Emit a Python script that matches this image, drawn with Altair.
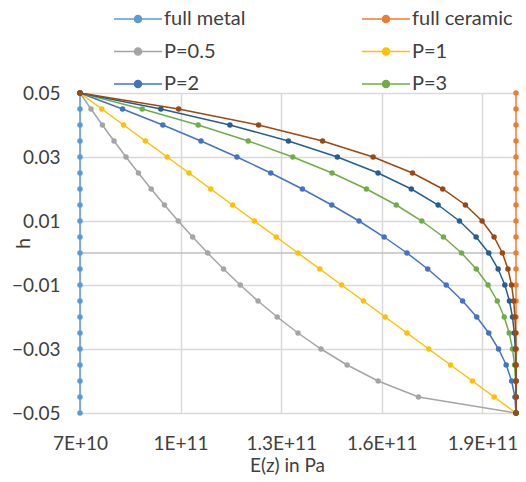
import altair as alt
import pandas as pd

# Through-thickness coordinate (m), top surface to bottom surface
h_values = [0.05, 0.045, 0.04, 0.035, 0.03, 0.025, 0.02, 0.015, 0.01, 0.005, 0.0,
            -0.005, -0.01, -0.015, -0.02, -0.025, -0.03, -0.035, -0.04, -0.045, -0.05]

# Young's modulus E(z) in GPa for each gradation case
e_full_metal = [70, 70, 70, 70, 70, 70, 70, 70, 70, 70, 70,
                70, 70, 70, 70, 70, 70, 70, 70, 70, 70]
e_full_ceramic = [200, 200, 200, 200, 200, 200, 200, 200, 200, 200, 200,
                  200, 200, 200, 200, 200, 200, 200, 200, 200, 200]
e_p05 = [70.0, 73.29, 76.67, 80.15, 83.72, 87.42, 91.23, 95.19, 99.30, 103.59, 108.08,
         112.79, 117.78, 123.09, 128.80, 135.0, 141.86, 149.65, 158.89, 170.93, 200.0]
e_p1 = [70.0, 76.5, 83.0, 89.5, 96.0, 102.5, 109.0, 115.5, 122.0, 128.5, 135.0,
        141.5, 148.0, 154.5, 161.0, 167.5, 174.0, 180.5, 187.0, 193.5, 200.0]
e_p2 = [70.0, 82.68, 94.70, 106.08, 116.80, 126.88, 136.30, 145.08, 153.20, 160.68, 167.50,
        173.68, 179.20, 184.08, 188.30, 191.88, 194.80, 197.08, 198.70, 199.68, 200.0]
e_p3 = [70.0, 88.54, 105.23, 120.16, 133.44, 145.16, 155.41, 164.30, 171.92, 178.37, 183.75,
        188.15, 191.68, 194.43, 196.49, 197.97, 198.96, 199.56, 199.87, 199.98, 200.0]
e_p4 = [70.0, 94.11, 114.71, 132.14, 146.75, 158.87, 168.79, 176.79, 183.15, 188.10, 191.88,
        194.67, 196.67, 198.05, 198.95, 199.49, 199.79, 199.93, 199.99, 200.0, 200.0]
e_p5 = [70.0, 99.41, 123.24, 142.32, 157.40, 169.15, 178.15, 184.92, 189.89, 193.46, 195.94,
        197.60, 198.67, 199.32, 199.68, 199.87, 199.96, 199.99, 200.0, 200.0, 200.0]

series_names = ["full metal", "full ceramic", "P=0.5", "P=1", "P=2", "P=3", "P=4", "P=5"]
series_values = [e_full_metal, e_full_ceramic, e_p05, e_p1, e_p2, e_p3, e_p4, e_p5]
legend_names = ["full metal", "full ceramic", "P=0.5", "P=1", "P=2", "P=3"]
series_colors = ["#5B9BD5", "#ED7D31", "#A5A5A5", "#FFC000",
                 "#4472C4", "#70AD47", "#255E91", "#9E480E"]

x_ticks = [7e10, 1e11, 1.3e11, 1.6e11, 1.9e11]
y_ticks = [-0.05, -0.03, -0.01, 0.01, 0.03, 0.05]

rows = []
for name, vals in zip(series_names, series_values):
    for i, (h, e) in enumerate(zip(h_values, vals)):
        rows.append({"series": name, "idx": i, "h": h, "E": e * 1e9})
df = pd.DataFrame(rows)

FONT = "Lato"
TXT = "#404040"

# line with a dot in the middle, used as legend swatch
swatch = "M-3.2,0L3.2,0M-0.47,0A0.47,0.47,0,1,1,0.47,0A0.47,0.47,0,1,1,-0.47,0Z"

color = alt.Color(
    "series:N",
    scale=alt.Scale(domain=series_names, range=series_colors),
    legend=alt.Legend(
        title=None, orient="none", legendX=48, legendY=-84, columns=2,
        direction="horizontal",
        values=legend_names, symbolType=swatch, symbolSize=225, symbolStrokeWidth=1.5,
        symbolOpacity=1,
        labelFont=FONT, labelFontSize=20, labelColor=TXT, labelOffset=16,
        rowPadding=12.5, columnPadding=113,
    ),
)

x = alt.X(
    "E:Q", scale=alt.Scale(domain=[7e10, 2e11], nice=False, zero=False),
    axis=alt.Axis(
        values=x_ticks,
        labelExpr="datum.value < 1e11 ? format(datum.value / 1e10, '.2~g') + 'E+10' : format(datum.value / 1e11, '.2~g') + 'E+11'",
        title="E(z) in Pa", grid=True, gridColor="#d9d9d9", gridWidth=1.5,
        domain=False, ticks=False, tickSize=0, labelPadding=21, labelFlush=False,
        labelOverlap=False, labelFont=FONT, labelFontSize=19, labelColor=TXT,
        titleFont=FONT, titleFontSize=19, titleFontWeight="normal", titleColor=TXT,
        titleX=207, titleY=52, titleBaseline="middle",
    ),
)
y = alt.Y(
    "h:Q", scale=alt.Scale(domain=[-0.05, 0.05], nice=False, zero=False),
    axis=alt.Axis(
        values=y_ticks, format=".2f", title="h", grid=True, gridColor="#d9d9d9",
        gridWidth=1.5, domain=False, ticks=False, tickSize=0, labelPadding=20,
        labelOverlap=False, labelFlush=False, labelFont=FONT, labelFontSize=19,
        labelColor=TXT, titleFont=FONT, titleFontSize=20, titleFontWeight="normal",
        titleColor=TXT, titleX=-57, titleY=150, titleBaseline="middle",
    ),
)

base = alt.Chart(df)
zero_line = alt.Chart(pd.DataFrame({"h": [0.0]})).mark_rule(
    color="#bfbfbf", strokeWidth=1.5).encode(y=alt.Y("h:Q"))
lines = base.mark_line(strokeWidth=1.5).encode(x=x, y=y, color=color, order="idx:Q")
points = base.mark_circle(size=30, opacity=1).encode(x=x, y=y, color=color)

chart = alt.layer(zero_line, lines, points).properties(
    width=436, height=320,
    padding={"left": 80, "top": 93, "right": 10, "bottom": 69},
    autosize=alt.AutoSizeParams(type="none"),
).configure_view(stroke=None)

chart.save("out.html", embed_options={"renderer": "svg", "actions": False})
